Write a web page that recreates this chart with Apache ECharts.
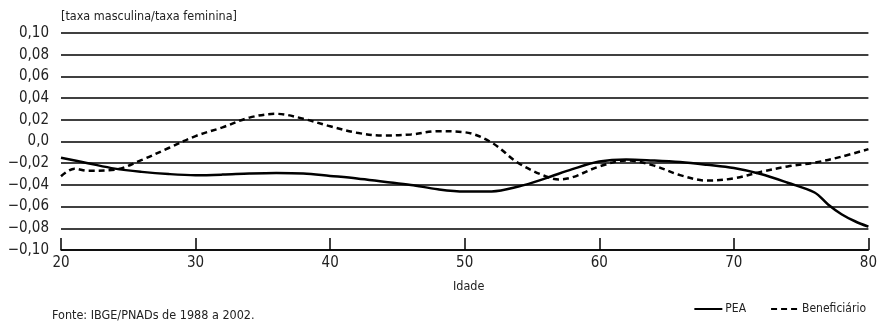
<!DOCTYPE html>
<html>
<head>
<meta charset="utf-8">
<script src="https://cdn.jsdelivr.net/npm/echarts@6/dist/echarts.min.js"></script>
<style>
html,body{margin:0;padding:0;background:#fff;}
#c{width:880px;height:323px;}
</style>
</head>
<body>
<div id="c"></div>
<script>
// Data
var peaAges = [20,22,24,26,28,30,32,34,36,38,40,42,44,46,48,50,52,54,56,58,60,62,64,66,68,70,72,74,76,77,78,79,80];
var peaValues = [-0.015,-0.020,-0.025,-0.028,-0.030,-0.031,-0.0305,-0.0295,-0.029,-0.0295,-0.0317,-0.034,-0.037,-0.040,-0.044,-0.046,-0.046,-0.0415,-0.034,-0.0255,-0.0185,-0.0165,-0.0175,-0.019,-0.0215,-0.0245,-0.030,-0.038,-0.047,-0.058,-0.067,-0.0735,-0.0785];
var benAges = [20,21,22,24,26,28,30,32,34,36,38,40,42,44,46,48,50,52,54,56,57,58,60,62,64,66,68,70,72,74,76,78,80];
var benValues = [-0.032,-0.025,-0.027,-0.026,-0.017,-0.006,0.005,0.013,0.022,0.0255,0.021,0.014,0.008,0.0055,0.0065,0.0095,0.0085,-0.001,-0.020,-0.032,-0.035,-0.033,-0.023,-0.0175,-0.022,-0.031,-0.036,-0.034,-0.028,-0.023,-0.0195,-0.014,-0.007];
var xTicks = [20,30,40,50,60,70,80];
var seriesNames = ['PEA','Beneficiário'];
var yAxisTitle = '[taxa masculina/taxa feminina]';
var xAxisTitle = 'Idade';
var sourceText = 'Fonte: IBGE/PNADs de 1988 a 2002.';

function pairs(xs, ys){ return xs.map(function(x,i){ return [x, ys[i]]; }); }
var FONT = "'Liberation Sans Narrow','DejaVu Sans Condensed','Roboto Condensed','Liberation Sans',sans-serif";

var chart = echarts.init(document.getElementById('c'), null, {renderer:'canvas'});
chart.setOption({
  animation:false,
  backgroundColor:'#fff',
  textStyle:{fontFamily:FONT},
  grid:{left:61, right:9, top:33, bottom:73, containLabel:false},
  xAxis:{
    type:'value', min:20, max:80, interval:10,
    name:xAxisTitle, nameLocation:'middle', nameGap:30,
    nameTextStyle:{fontFamily:FONT, fontSize:12.5, color:'#222', padding:[0,0,0,8]},
    axisLine:{show:true, onZero:false, lineStyle:{color:'#000', width:1.5}},
    axisTick:{show:true, inside:true, length:12, lineStyle:{color:'#000', width:1.5}},
    axisLabel:{fontFamily:FONT, fontSize:15, color:'#222', margin:6},
    splitLine:{show:false}
  },
  yAxis:{
    type:'value', min:-0.1, max:0.1, interval:0.02,
    axisLine:{show:false},
    axisTick:{show:false},
    axisLabel:{fontFamily:FONT, fontSize:15, color:'#222', margin:12,
      formatter:function(v){
        var r = Math.round(v*100)/100;
        if (Math.abs(r) < 1e-9) return '0,0';
        var s = Math.abs(r).toFixed(2).replace('.',',');
        return (r < 0 ? '\u2212' : '') + s;
      }},
    splitLine:{show:true, lineStyle:{color:'#000', width:1.5}}
  },
  legend:{
    right:9, bottom:3, itemWidth:28, itemHeight:10, itemGap:24,
    itemStyle:{opacity:0},
    textStyle:{fontFamily:FONT, fontSize:12, color:'#222', padding:[0,0,0,-2]},
    data:seriesNames
  },
  graphic:[
    {type:'text', left:61, top:10, style:{text:yAxisTitle, font:'12.5px '+FONT, fill:'#222'}},
    {type:'text', left:52, top:309, style:{text:sourceText, font:'12.5px '+FONT, fill:'#222'}}
  ],
  series:[
    {name:seriesNames[0], type:'line', data:pairs(peaAges,peaValues), smooth:0.35, symbol:'none',
     lineStyle:{color:'#000', width:2.5}, itemStyle:{color:'#000'}},
    {name:seriesNames[1], type:'line', data:pairs(benAges,benValues), smooth:0.35, symbol:'none',
     lineStyle:{color:'#000', width:2.5, type:[6,4]}, itemStyle:{color:'#000'}}
  ]
});
</script>
</body>
</html>
